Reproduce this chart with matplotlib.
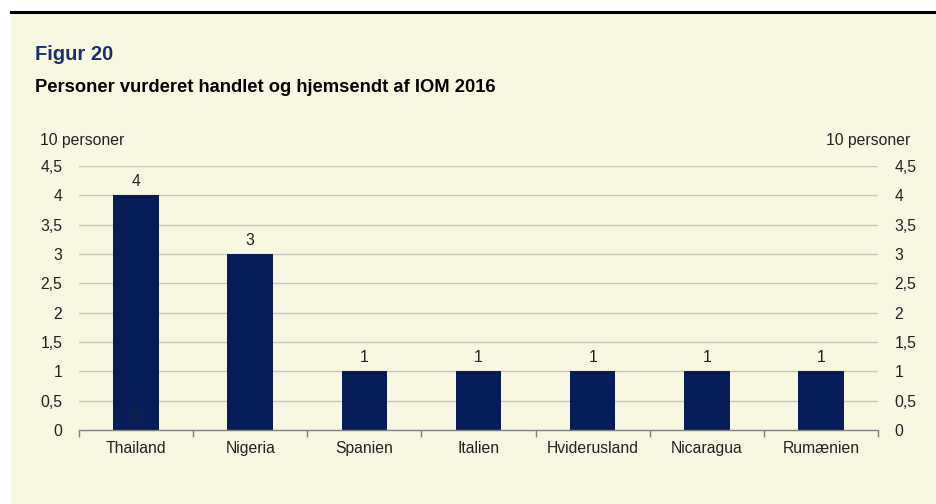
import matplotlib
matplotlib.use("Agg")
import matplotlib.pyplot as plt
from matplotlib.patches import Rectangle
from matplotlib.lines import Line2D

categories = ["Thailand", "Nigeria", "Spanien", "Italien", "Hviderusland", "Nicaragua", "Rumænien"]
values = [4, 3, 1, 1, 1, 1, 1]
extra_label = "0"  # stray zero data label shown on the Thailand bar
yticks = [0, 0.5, 1, 1.5, 2, 2.5, 3, 3.5, 4, 4.5]
ytick_labels = ["0", "0,5", "1", "1,5", "2", "2,5", "3", "3,5", "4", "4,5"]

plt.rcParams['font.family'] = ['Liberation Sans', 'DejaVu Sans']

W, H = 936, 504
fig = plt.figure(figsize=(W / 100, H / 100), dpi=100)
fig.patch.set_facecolor("white")

bg = "#F8F7E2"
fig.patches.append(Rectangle((11 / W, 0), 1 - 11 / W, 1 - 13 / H, transform=fig.transFigure,
                             facecolor=bg, edgecolor="none", zorder=-10))
fig.lines.append(Line2D([11 / W, 1], [1 - 12 / H, 1 - 12 / H], transform=fig.transFigure,
                        color="black", linewidth=2.2, zorder=-5))

fig.text(35 / W, 1 - 54 / H, "Figur 20", fontsize=14.5, fontweight="bold", color="#1B2E6E",
         va="center", ha="left")
fig.text(35 / W, 1 - 87 / H, "Personer vurderet handlet og hjemsendt af IOM 2016", fontsize=13.2,
         fontweight="bold", color="black", va="center", ha="left")

left, right, bottom, top = 79, 878, 430, 166
ax = fig.add_axes([left / W, 1 - bottom / H, (right - left) / W, (bottom - top) / H])
ax.patch.set_alpha(0)

fs = 11.3
x = list(range(len(categories)))
bar_color = "#061D5A"
ax.bar(x, values, width=0.4, color=bar_color, zorder=3)
for xi, v in zip(x, values):
    ax.text(xi, v + 0.1, str(v), ha="center", va="bottom", fontsize=fs, color="#222222")
ax.text(0, 0.12, extra_label, ha="center", va="bottom", fontsize=fs, color="#222222", zorder=4)

ax.set_xlim(-0.5, len(categories) - 0.5)
ax.set_ylim(0, 4.5)
ax.set_yticks(yticks)
ax.set_yticklabels(ytick_labels)
ax.tick_params(axis="y", length=0, labelsize=fs, colors="#222222", pad=12,
               labelleft=True, labelright=True)
for yt in yticks[1:]:
    ax.axhline(yt, color="#C9C9C0", linewidth=1.0, zorder=1)

ax.set_xticks(x)
ax.set_xticklabels(categories)
ax.tick_params(axis="x", length=0, labelsize=fs, colors="#222222", pad=8)
ax.set_xticks([i - 0.5 for i in range(len(categories) + 1)], minor=True)
ax.tick_params(axis="x", which="minor", length=5, color="#808080", width=1)

for s in ["top", "left", "right"]:
    ax.spines[s].set_visible(False)
ax.spines["bottom"].set_color("#808080")
ax.spines["bottom"].set_linewidth(1.0)
ax.spines["bottom"].set_zorder(4)

fig.text(40 / W, 1 - 140 / H, "10 personer", fontsize=fs, color="#222222", ha="left", va="center")
fig.text(910 / W, 1 - 140 / H, "10 personer", fontsize=fs, color="#222222", ha="right", va="center")

fig.savefig("out.png", dpi=100, facecolor=fig.get_facecolor())
